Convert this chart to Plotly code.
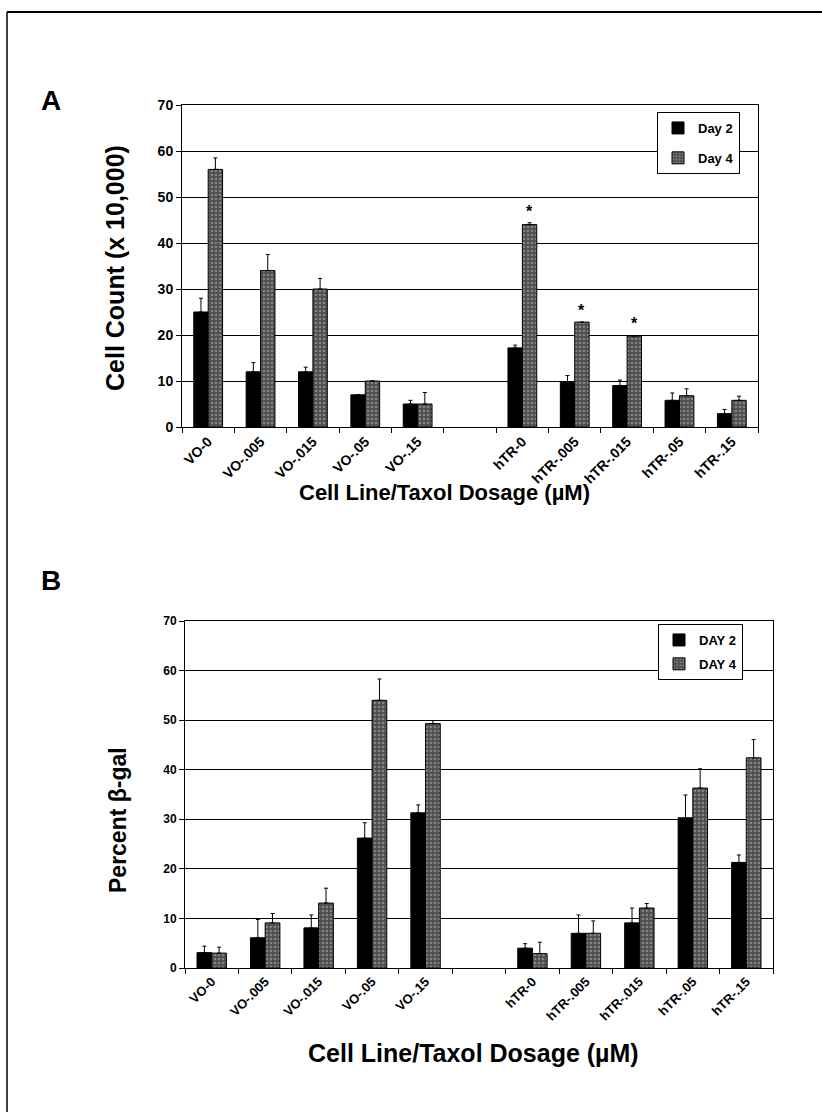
import plotly.graph_objects as go

# ---------------- data ----------------
categories = ["VO-0", "VO-.005", "VO-.015", "VO-.05", "VO-.15", " ",
              "hTR-0", "hTR-.005", "hTR-.015", "hTR-.05", "hTR-.15"]
groups = ["VO-0", "VO-.005", "VO-.015", "VO-.05", "VO-.15",
          "hTR-0", "hTR-.005", "hTR-.015", "hTR-.05", "hTR-.15"]

# Panel A: cell count (x 10,000)
a_day2 = [25, 12, 12, 7, 5, 17.2, 9.7, 9.0, 5.8, 2.9]
a_day2_err = [3, 2, 1, 0, 0.8, 0.6, 1.5, 1.2, 1.6, 0.9]
a_day4 = [56, 34, 30, 10, 5, 44, 22.8, 19.8, 6.8, 5.8]
a_day4_err = [2.5, 3.5, 2.3, 0, 2.5, 0.4, 0, 0, 1.5, 0.9]
star_groups = ["hTR-0", "hTR-.005", "hTR-.015"]
star_y = [47.8, 26.3, 23.4]

# Panel B: percent beta-gal
b_day2 = [3.1, 6.1, 8.1, 26.2, 31.3, 4.0, 7.0, 9.1, 30.3, 21.3]
b_day2_err = [1.3, 3.7, 2.6, 3.1, 1.6, 0.9, 3.7, 3.0, 4.6, 1.5]
b_day4 = [3.0, 9.1, 13.1, 54.0, 49.3, 2.9, 7.0, 12.1, 36.3, 42.4]
b_day4_err = [1.2, 1.9, 3.0, 4.3, 0.6, 2.3, 2.5, 0.9, 3.9, 3.7]

y_ticks = [0, 10, 20, 30, 40, 50, 60, 70]

# ---------------- styles ----------------
W, H = 822, 1112
ARIAL = "Liberation Sans, Arial, sans-serif"
DARK = "#000000"
GRAY_BG = "#4e4e4e"
GRAY_FG = "#b8b8b8"


def px(x):
    return x / W


def py(y):
    return 1 - y / H


def day4_marker():
    return dict(color=GRAY_BG, line=dict(color="black", width=1),
                pattern=dict(shape=".", fgcolor=GRAY_FG, bgcolor=GRAY_BG,
                             size=4, solidity=0.35))


def err(vals):
    return dict(type="data", array=vals, arrayminus=[0] * len(vals),
                symmetric=False, color="black", thickness=1, width=2)


fig = go.Figure()

# Panel A
fig.add_trace(go.Bar(x=groups, y=a_day2, name="Day 2", xaxis="x", yaxis="y",
                     marker=dict(color=DARK, line=dict(color="black", width=1)),
                     error_y=err(a_day2_err), legend="legend", legendgroup="a2"))
fig.add_trace(go.Bar(x=groups, y=a_day4, name="Day 4", xaxis="x", yaxis="y",
                     marker=day4_marker(),
                     error_y=err(a_day4_err), legend="legend", legendgroup="a4"))

# Panel B
fig.add_trace(go.Bar(x=groups, y=b_day2, name="DAY 2", xaxis="x2", yaxis="y2",
                     marker=dict(color=DARK, line=dict(color="black", width=1)),
                     error_y=err(b_day2_err), legend="legend2", legendgroup="b2"))
fig.add_trace(go.Bar(x=groups, y=b_day4, name="DAY 4", xaxis="x2", yaxis="y2",
                     marker=day4_marker(),
                     error_y=err(b_day4_err), legend="legend2", legendgroup="b4"))

common_x = dict(type="category", categoryorder="array", categoryarray=categories,
                tickangle=-45, tickson="boundaries", ticks="outside", ticklen=5,
                tickcolor="black", showline=True, linecolor="black", linewidth=1,
                mirror=True, showgrid=False, automargin=False, fixedrange=True)
common_y = dict(range=[0, 70], tickvals=y_ticks, ticks="outside", ticklen=5,
                tickcolor="black", showline=True, linecolor="black", linewidth=1,
                mirror=True, showgrid=True, gridcolor="black", gridwidth=1.3,
                zeroline=False, automargin=False, fixedrange=True)

fig.update_layout(
    width=W, height=H,
    margin=dict(l=0, r=0, t=0, b=0),
    paper_bgcolor="white", plot_bgcolor="white",
    barmode="group", bargap=0.45, bargroupgap=0.0,
    showlegend=True,
    xaxis=dict(common_x, domain=[px(182), px(758)], anchor="y",
               tickfont=dict(family=ARIAL, size=14, color="black", weight="bold")),
    yaxis=dict(common_y, domain=[py(427), py(105)], anchor="x",
               tickfont=dict(family=ARIAL, size=14, color="black", weight="bold")),
    xaxis2=dict(common_x, domain=[px(185), px(773)], anchor="y2",
                tickfont=dict(family=ARIAL, size=13, color="black", weight="bold")),
    yaxis2=dict(common_y, domain=[py(968), py(621)], anchor="x2",
                tickfont=dict(family=ARIAL, size=12, color="black", weight="bold")),
    legend=dict(x=px(657), y=py(112), xanchor="left", yanchor="top",
                bgcolor="white", bordercolor="black", borderwidth=1,
                font=dict(family=ARIAL, size=13, color="black", weight="bold"),
                tracegroupgap=10, itemwidth=30),
    legend2=dict(x=px(658), y=py(624), xanchor="left", yanchor="top",
                 bgcolor="white", bordercolor="black", borderwidth=1,
                 font=dict(family=ARIAL, size=13, color="black", weight="bold"),
                 tracegroupgap=4, itemwidth=30),
)

annotations = []
# asterisks over Day 4 bars
for g, yv in zip(star_groups, star_y):
    annotations.append(dict(x=g, y=yv, xref="x", yref="y", text="*", showarrow=False,
                            xshift=7, yshift=-4, xanchor="center", yanchor="middle",
                            font=dict(family=ARIAL, size=16, color="black", weight="bold")))

# panel letters and axis titles
title_font = dict(family=ARIAL, size=21, color="black", weight="bold")


def paper_text(x, y, text, font, angle=0):
    return dict(x=px(x), y=py(y), xref="paper", yref="paper", text=text,
                showarrow=False, xanchor="center", yanchor="middle",
                textangle=angle, font=font)


annotations += [
    paper_text(51, 100, "A", dict(family=ARIAL, size=28, color="black", weight="bold")),
    paper_text(51, 580, "B", dict(family=ARIAL, size=28, color="black", weight="bold")),
    paper_text(115, 268, "Cell Count (x 10,000)", dict(title_font, size=25), -90),
    paper_text(445, 492, "Cell Line/Taxol Dosage (µM)", dict(title_font, size=22)),
    paper_text(118, 820, "Percent β-gal", dict(title_font, size=23), -90),
    paper_text(473, 1053, "Cell Line/Taxol Dosage (µM)", dict(title_font, size=25)),
]
fig.update_layout(annotations=annotations)

# outer frame lines
fig.update_layout(shapes=[
    dict(type="line", xref="paper", yref="paper", x0=px(7), x1=1, y0=py(12), y1=py(12),
         line=dict(color="black", width=2)),
    dict(type="line", xref="paper", yref="paper", x0=px(7), x1=px(7), y0=py(12), y1=0,
         line=dict(color="black", width=1.5)),
])

fig.write_html("out.html")
